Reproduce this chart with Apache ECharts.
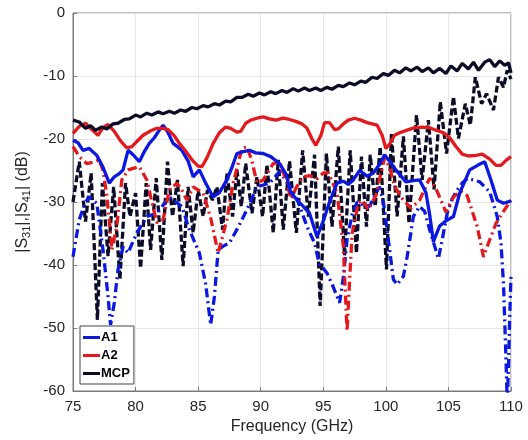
<!DOCTYPE html>
<html>
<head>
<meta charset="utf-8">
<script src="https://cdn.jsdelivr.net/npm/echarts@6/dist/echarts.min.js"></script>
<style>html,body{margin:0;padding:0;background:#fff}#c{width:528px;height:440px}</style>
</head>
<body>
<div id="c"></div>
<script>
// x-axis ticks
const xTicks = [75, 80, 85, 90, 95, 100, 105, 110];
const yTicks = [-60, -50, -40, -30, -20, -10, 0];

// A1 |S31| (solid blue)
const a1S31F = [75,75.4,75.8,76.3,76.9,77.4,77.9,78.3,78.7,79.0,79.4,79.8,80.3,80.7,81.1,81.5,81.9,82.2,82.6,83.0,83.4,83.7,84.2,84.6,85.1,85.6,86.2,86.7,87.3,87.7,88.1,88.6,89.1,89.6,90.2,90.8,91.5,92.0,92.4,93.0,93.4,93.9,94.5,95.0,95.5,96.1,96.6,97.0,97.4,97.9,98.5,99.0,99.5,99.9,100.4,100.8,101.6,102.2,102.7,103.2,103.5,103.8,104.3,104.8,105.4,105.9,106.7,107.4,107.9,108.4,108.9,109.4,109.9,110];
const a1S31 = [-20.2,-20.6,-21.8,-21.5,-22.6,-24.5,-27.0,-26.0,-25.5,-24.9,-21.8,-22.5,-23.6,-22.0,-20.7,-19.8,-18.6,-17.8,-19.0,-20.7,-21.3,-21.8,-23.5,-26.0,-24.9,-27.0,-29.2,-28.5,-26.5,-24.5,-22.3,-22.0,-21.8,-22.2,-22.3,-22.8,-23.9,-25.5,-28.5,-29.9,-30.7,-31.8,-35.5,-33.0,-30.0,-27.0,-26.7,-27.2,-26.5,-25.0,-25.9,-25.4,-24.0,-22.5,-23.8,-24.9,-26.8,-26.6,-26.5,-28.5,-32.0,-36.3,-33.8,-33.0,-32.3,-28.6,-24.9,-24.1,-23.6,-26.5,-29.7,-30.2,-29.9,-29.8];

// A1 |S41| (dash-dot blue)
const a1S41F = [75,75.5,76.0,76.3,76.9,77.4,77.8,78.0,78.3,78.6,79.0,79.4,80.1,80.9,81.7,82.7,83.2,83.7,84.3,85.1,85.6,86.0,86.3,86.6,87.0,87.5,88.2,88.9,89.7,90.2,90.7,91.5,92.0,92.5,93.0,93.7,94.3,94.7,95.0,95.3,95.8,96.3,96.6,96.9,97.3,97.7,98.2,98.7,99.1,99.5,99.8,100.1,100.6,100.9,101.4,101.7,102.2,102.7,103.1,103.5,104.2,104.5,104.9,105.3,105.7,106.1,106.5,107.0,107.5,108.0,108.3,108.9,109.2,109.4,109.6,109.7,109.8,109.9,110];
const a1S41 = [-38.7,-32.8,-30.0,-29.2,-30.2,-37.6,-45.0,-49.5,-46.0,-40.7,-37.1,-38.1,-34.9,-32.3,-31.8,-29.2,-30.0,-30.7,-34.4,-38.1,-43.0,-49.5,-45.0,-37.6,-37.0,-36.5,-34.0,-31.2,-27.6,-27.3,-27.0,-25.2,-26.5,-28.1,-30.0,-33.9,-36.5,-40.0,-40.5,-41.3,-43.5,-46.0,-42.0,-36.0,-32.0,-30.0,-30.5,-30.7,-29.0,-27.6,-30.0,-34.4,-42.3,-43.1,-41.8,-38.7,-32.3,-30.7,-31.5,-34.4,-39.0,-36.0,-31.8,-29.5,-28.1,-27.0,-26.3,-26.5,-26.8,-27.8,-28.4,-32.3,-36.5,-43.0,-55.0,-62.0,-56.0,-48.0,-41.8];

// A2 |S31| (solid red)
const a2S31F = [75,75.5,76,76.5,77,77.4,77.8,78.3,78.8,79.3,79.7,80.2,80.6,81.2,81.7,82.2,82.6,83.1,83.5,84,84.5,85.0,85.3,85.7,86.2,86.7,87.2,87.6,88.1,88.4,88.8,89.2,89.7,90.2,90.7,91.2,91.8,92.3,92.8,93.3,93.7,94.1,94.4,94.8,95.1,95.5,95.9,96.2,96.6,97.0,97.5,98.0,98.5,98.9,99.3,99.7,100.0,100.3,100.7,101.1,101.7,102.3,102.9,103.5,104.0,104.6,105.1,105.6,106.1,106.6,107.2,107.7,108.3,108.8,109.2,109.6,110];
const a2S31 = [-19.1,-18.0,-17.5,-18.5,-19.4,-18.2,-17.7,-18.8,-20.3,-21.4,-21.2,-20.2,-19.4,-18.7,-18.3,-18.3,-18.5,-19.5,-20.7,-21.9,-23.3,-24.3,-24.4,-23.0,-20.7,-19.0,-18.1,-18.3,-18.9,-18.8,-17.5,-17.0,-16.7,-16.5,-16.8,-17.0,-16.7,-16.9,-17.2,-17.6,-18.3,-20.0,-21.0,-19.5,-17.4,-17.4,-18.5,-18.4,-17.6,-17.0,-16.7,-17.0,-17.4,-17.6,-17.8,-19.4,-21.5,-20.8,-19.4,-19.0,-18.6,-18.2,-18.1,-18.2,-18.6,-19.0,-19.8,-21.2,-22.4,-22.7,-22.6,-22.4,-23.2,-24.2,-24.2,-23.4,-22.8];

// A2 |S41| (dash-dot red)
const a2S41F = [75,75.5,76.1,76.6,77.1,77.4,77.7,78.0,78.1,78.5,78.9,79.4,80.3,80.9,81.3,81.7,82.2,82.7,83.3,83.7,84.1,84.6,85.4,86.0,86.6,87.3,87.8,88.5,88.9,89.3,89.7,90.2,91.0,91.5,92.1,92.4,92.9,93.4,93.9,94.5,95.0,95.4,96.1,96.6,96.9,97.3,97.8,98.1,98.6,99.2,99.5,99.9,100.3,100.7,101.2,102.0,102.7,103.5,104.1,104.8,105.4,106.0,106.5,107.3,107.8,108.3,108.8,109.4,110];
const a2S41 = [-21.2,-22.8,-23.9,-23.7,-23.3,-25.0,-29.0,-35.0,-37.6,-33.9,-26.5,-24.9,-24.4,-26.5,-30.0,-33.3,-32.8,-28.1,-27.0,-28.1,-29.7,-27.6,-28.6,-32.5,-38.1,-32.8,-27.0,-21.5,-21.2,-23.5,-27.0,-26.5,-23.9,-23.6,-27.0,-29.5,-27.5,-26.0,-25.8,-26.3,-25.4,-25.4,-28.5,-37.0,-50.5,-35.0,-30.2,-29.7,-31.2,-29.0,-26.3,-23.0,-24.5,-27.5,-29.2,-31.0,-29.7,-26.2,-28.3,-31.6,-29.2,-28.3,-29.0,-33.9,-38.7,-36.0,-33.4,-31.5,-29.7];

// MCP |S31| (solid dark)
const mcpS31F = [75,75.5,76,76.4,76.8,77.3,77.7,78.2,78.6,79.1,79.5,80,80.4,80.9,81.3,81.8,82.2,82.7,83.1,83.6,84.0,84.5,84.9,85.4,85.8,86.3,86.7,87.2,87.6,88.1,88.5,89.0,89.4,89.9,90.3,90.8,91.2,91.7,92.1,92.6,93.0,93.5,93.9,94.4,94.8,95.3,95.7,96.2,96.6,97.1,97.5,98.0,98.4,98.9,99.3,99.8,100.2,100.7,101.1,101.6,102.0,102.5,102.9,103.4,103.8,104.3,104.8,105.2,105.7,106.1,106.6,107.0,107.4,107.9,108.3,108.7,109.1,109.5,109.8,110];
const mcpS31 = [-17.0,-17.3,-18.3,-17.9,-18.6,-18.1,-18.4,-17.6,-17.5,-16.9,-16.8,-16.2,-16.5,-15.9,-16.2,-15.7,-16.0,-15.6,-15.9,-15.4,-15.6,-15.0,-15.2,-14.7,-14.9,-14.4,-14.6,-14.0,-14.1,-13.4,-13.4,-12.9,-13.2,-12.7,-13.0,-12.5,-12.8,-12.3,-12.6,-12.0,-12.4,-11.9,-12.3,-11.9,-12.3,-11.8,-12.1,-11.5,-11.7,-11.1,-11.4,-10.8,-11.0,-10.2,-10.4,-9.6,-9.9,-9.1,-9.5,-8.7,-9.2,-8.6,-9.3,-8.7,-9.5,-8.8,-9.6,-8.4,-9.2,-8.0,-8.9,-7.8,-9.1,-7.8,-7.4,-8.5,-7.6,-8.3,-7.9,-9.5];

// MCP |S41| (dashed dark)
const mcpS41F = [75.0,75.5,76.0,76.45,76.95,77.35,77.8,78.25,78.75,79.2,79.55,80.0,80.4,80.85,81.2,81.65,82.1,82.55,82.95,83.35,83.8,84.2,84.6,85.0,85.4,85.75,86.15,86.5,86.95,87.3,87.75,88.1,88.45,88.8,89.3,89.7,90.15,90.5,91.0,91.4,91.8,92.3,92.85,93.35,93.8,94.3,94.75,95.25,95.7,96.2,96.7,97.15,97.65,98.05,98.45,98.75,99.15,99.55,100.05,100.45,100.9,101.4,101.85,102.45,102.9,103.4,103.85,104.35,104.85,105.4,105.8,106.35,106.75,107.15,107.65,108.05,108.6,109.0,109.4,109.7,110];
const mcpS41 = [-30.0,-23.6,-33.1,-25.4,-48.7,-27.0,-38.6,-27.6,-42.3,-27.0,-32.3,-28.6,-40.5,-27.0,-37.6,-26.2,-39.2,-23.6,-32.3,-26.5,-40.2,-27.6,-34.9,-28.1,-32.3,-28.1,-29.7,-27.6,-34.4,-25.4,-32.3,-24.9,-30.7,-23.9,-31.8,-26.0,-32.3,-24.1,-34.9,-23.3,-34.4,-23.5,-34.9,-21.8,-32.3,-22.5,-46.5,-22.3,-33.9,-21.2,-38.5,-21.8,-38.1,-22.8,-33.9,-22.5,-30.7,-21.2,-40.7,-19.1,-32.3,-19.6,-33.4,-16.2,-26.5,-17.0,-28.0,-14.1,-22.3,-13.3,-19.9,-14.4,-17.8,-10.2,-14.4,-12.8,-15.4,-10.2,-11.8,-9.1,-10.5];

function zip(f, v) { return f.map((x, i) => [x, v[i]]); }

const BLUE = '#0a18e0', RED = '#e3191c', DARK = '#0c0c28';
const DASHDOT = [9, 4, 2, 4];
const DASH = [7, 3];
const LW = 3.3;

const chart = echarts.init(document.getElementById('c'), null, {renderer: 'canvas'});
const axisColor = '#7a7a7a';
chart.setOption({
  animation: false,
  backgroundColor: '#fff',
  textStyle: {fontFamily: 'Liberation Sans, Arial, sans-serif'},
  grid: {left: 73, right: 17, top: 13, bottom: 48, show: true, borderColor: axisColor, borderWidth: 1},
  legend: {
    data: ['A1', 'A2', 'MCP'],
    orient: 'vertical', left: 80, top: 326,
    backgroundColor: '#fff', borderColor: '#444', borderWidth: 1,
    padding: [5, 4, 4, 3], itemGap: 5,
    icon: 'rect', itemWidth: 17, itemHeight: 3,
    textStyle: {fontSize: 13, fontWeight: 'bold', color: '#000', padding: [0, 0, 0, -4]}
  },
  xAxis: {
    type: 'value', min: 75, max: 110, interval: 5,
    name: 'Frequency (GHz)', nameLocation: 'middle', nameGap: 28,
    nameTextStyle: {fontSize: 16, color: '#262626'},
    axisLine: {show: true, onZero: false, lineStyle: {color: axisColor}},
    axisTick: {show: true, inside: true, length: 4, lineStyle: {color: axisColor}},
    axisLabel: {fontSize: 15, color: '#262626', margin: 8},
    splitLine: {show: true, lineStyle: {color: '#e6e6e6'}}
  },
  yAxis: {
    type: 'value', min: -60, max: 0, interval: 10,
    name: '{t||S}{s|31}{t||,|S}{s|41}{t|| (dB)}', nameLocation: 'middle', nameGap: 27, nameRotate: 90,
    nameTextStyle: {rich: {t: {fontSize: 16, color: '#262626'}, s: {fontSize: 11, color: '#262626', verticalAlign: 'bottom', padding: [8, 0, 0, 0]}}},
    axisLine: {show: true, onZero: false, lineStyle: {color: axisColor}},
    axisTick: {show: true, inside: true, length: 4, lineStyle: {color: axisColor}},
    axisLabel: {fontSize: 15, color: '#262626', margin: 8},
    splitLine: {show: true, lineStyle: {color: '#e6e6e6'}}
  },
  series: [
    {name: 'MCP S41', type: 'line', data: zip(mcpS41F, mcpS41), symbol: 'none', lineStyle: {color: DARK, width: LW, type: DASH}, itemStyle: {color: DARK}, z: 2},
    {name: 'A1 S41', type: 'line', data: zip(a1S41F, a1S41), symbol: 'none', lineStyle: {color: BLUE, width: LW, type: DASHDOT}, itemStyle: {color: BLUE}, z: 3},
    {name: 'A2 S41', type: 'line', data: zip(a2S41F, a2S41), symbol: 'none', lineStyle: {color: RED, width: LW, type: DASHDOT}, itemStyle: {color: RED}, z: 3},
    {name: 'A1', type: 'line', data: zip(a1S31F, a1S31), symbol: 'none', lineStyle: {color: BLUE, width: LW}, itemStyle: {color: BLUE}, z: 4},
    {name: 'A2', type: 'line', data: zip(a2S31F, a2S31), symbol: 'none', lineStyle: {color: RED, width: LW}, itemStyle: {color: RED}, z: 4},
    {name: 'MCP', type: 'line', data: zip(mcpS31F, mcpS31), symbol: 'none', lineStyle: {color: DARK, width: LW}, itemStyle: {color: DARK}, z: 4}
  ]
});
</script>
</body>
</html>
